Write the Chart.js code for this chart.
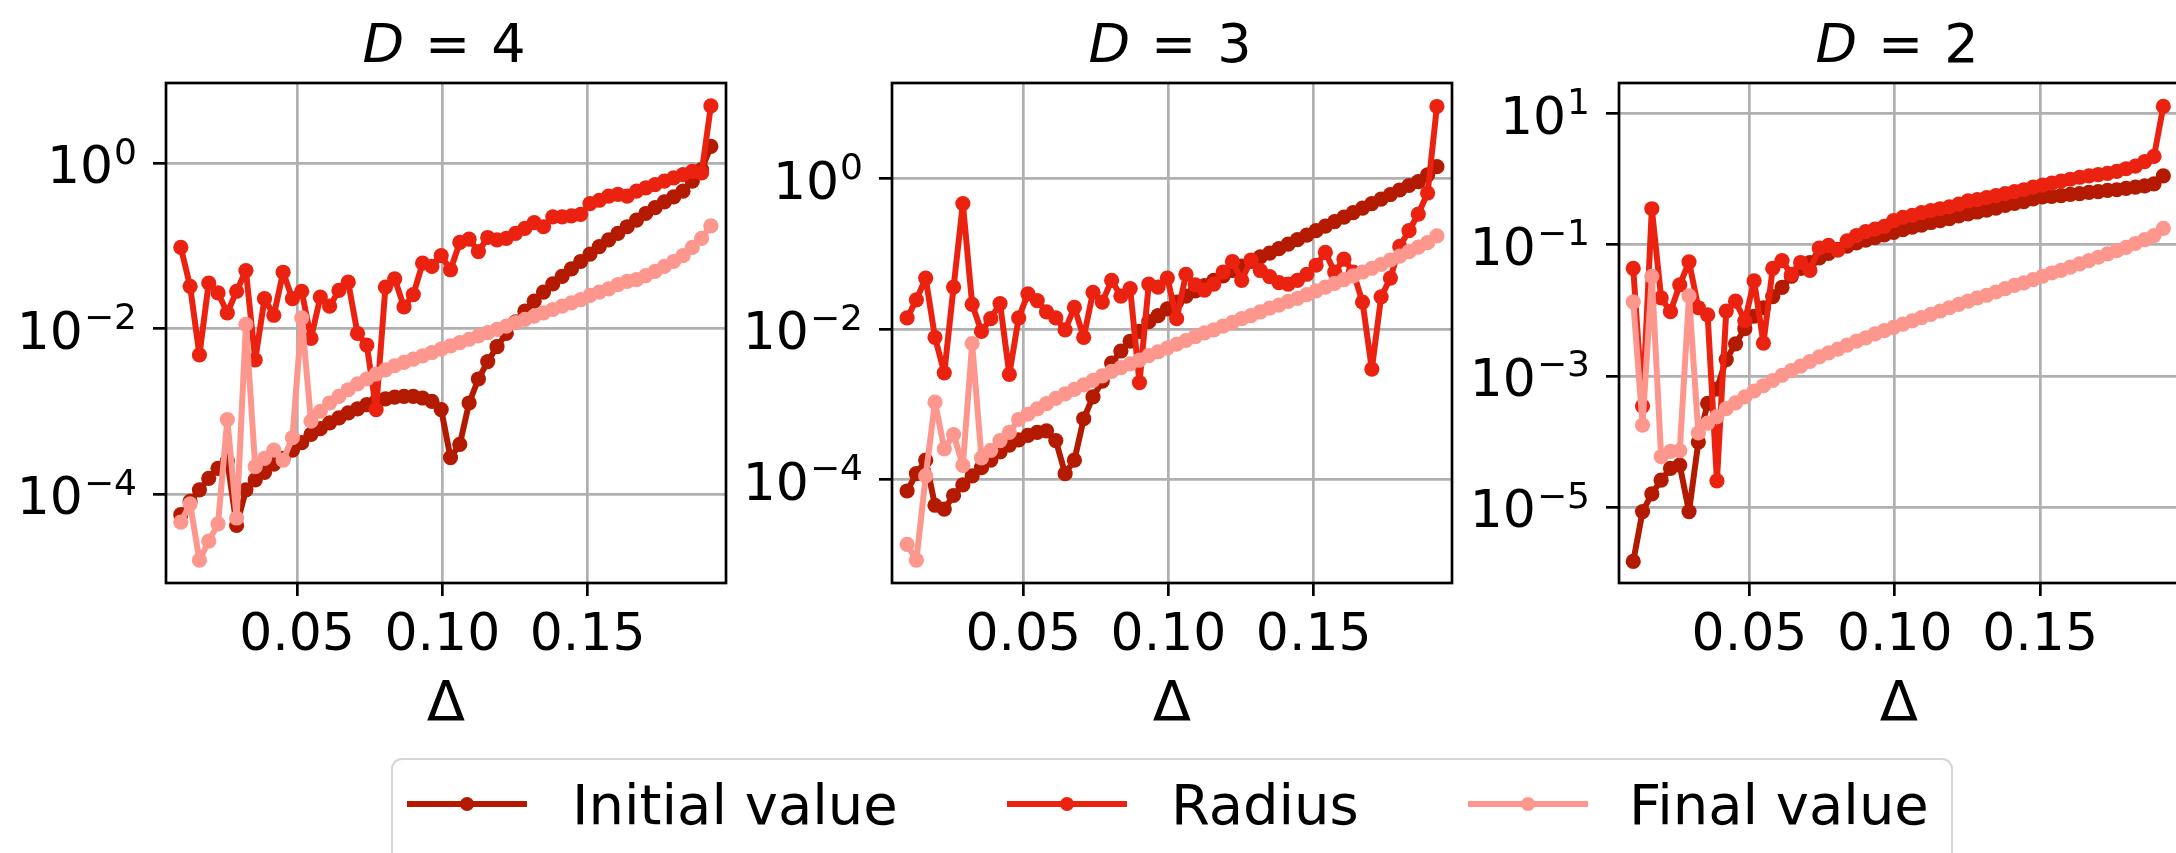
<!DOCTYPE html>
<html>
<head>
<meta charset="utf-8">
<script src="https://cdn.jsdelivr.net/npm/chart.js@4.4.1/dist/chart.umd.min.js"></script>
<style>
  html, body { margin: 0; padding: 0; background: #fff; overflow: hidden; width: 2176px; height: 853px; }
  canvas.panel { position: absolute; top: 0; }
  #legendBox { position: absolute; left: 391px; top: 758px; width: 1562px; height: 130px; box-sizing: border-box;
               border: 2.7px solid #d6d6d6; border-radius: 11px; background: #fff; }
  .lgLine { position: absolute; height: 6px; }
  .lgDot { position: absolute; width: 14px; height: 14px; border-radius: 50%; }
  .lgText { position: absolute; font-family: "DejaVu Sans"; font-size: 56px; line-height: 56px; color: #000; white-space: nowrap; }
</style>
</head>
<body>
<canvas id="c0" class="panel"></canvas>
<canvas id="c1" class="panel"></canvas>
<canvas id="c2" class="panel"></canvas>
<div id="legendBox"></div>
<script>
// ---------------- DATA ----------------
// Delta values (x)
const deltas = [0.0100,0.0132,0.0164,0.0196,0.0228,0.0260,0.0292,0.0324,0.0356,0.0388,
                0.0420,0.0452,0.0484,0.0516,0.0548,0.0580,0.0612,0.0644,0.0676,0.0708,
                0.0740,0.0772,0.0804,0.0836,0.0868,0.0900,0.0932,0.0964,0.0996,0.1028,
                0.1060,0.1092,0.1124,0.1156,0.1188,0.1220,0.1252,0.1284,0.1316,0.1348,
                0.1380,0.1412,0.1444,0.1476,0.1508,0.1540,0.1572,0.1604,0.1636,0.1668,
                0.1700,0.1732,0.1764,0.1796,0.1828,0.1860,0.1892,0.1924];

// Values, stored as log10 exponents
const d4InitialLog10 = [-4.25,-4.09,-3.95,-3.81,-3.69,-3.60,-4.38,-3.95,-3.83,-3.74,
                        -3.64,-3.57,-3.47,-3.38,-3.28,-3.21,-3.14,-3.08,-3.02,-2.97,
                        -2.92,-2.88,-2.85,-2.83,-2.82,-2.82,-2.84,-2.88,-2.98,-3.56,
                        -3.40,-2.90,-2.61,-2.40,-2.22,-2.06,-1.92,-1.79,-1.67,-1.56,
                        -1.46,-1.37,-1.28,-1.19,-1.10,-1.01,-0.93,-0.85,-0.77,-0.69,
                        -0.61,-0.54,-0.47,-0.41,-0.34,-0.22,-0.08,0.20];
const d4RadiusLog10 = [-1.02,-1.49,-2.32,-1.45,-1.57,-1.81,-1.55,-1.30,-2.38,-1.64,
                       -1.84,-1.32,-1.64,-1.55,-2.12,-1.62,-1.73,-1.54,-1.44,-2.06,
                       -2.20,-2.98,-1.50,-1.40,-1.74,-1.59,-1.21,-1.25,-1.12,-1.29,
                       -0.96,-0.92,-1.07,-0.90,-0.93,-0.91,-0.85,-0.79,-0.72,-0.77,
                       -0.65,-0.65,-0.64,-0.62,-0.49,-0.45,-0.40,-0.38,-0.40,-0.34,
                       -0.30,-0.26,-0.22,-0.18,-0.14,-0.10,-0.12,0.69];
const d4FinalLog10 = [-4.34,-4.12,-4.80,-4.57,-4.36,-3.10,-4.29,-1.95,-3.67,-3.57,
                      -3.47,-3.59,-3.32,-1.87,-3.12,-3.00,-2.90,-2.82,-2.74,-2.67,
                      -2.61,-2.55,-2.50,-2.45,-2.41,-2.37,-2.33,-2.29,-2.25,-2.21,
                      -2.17,-2.13,-2.09,-2.05,-2.01,-1.97,-1.93,-1.89,-1.85,-1.81,
                      -1.77,-1.73,-1.69,-1.65,-1.60,-1.56,-1.52,-1.47,-1.43,-1.41,
                      -1.36,-1.31,-1.25,-1.19,-1.12,-1.02,-0.91,-0.76];

const d3InitialLog10 = [-4.15,-3.92,-3.74,-4.34,-4.39,-4.21,-4.07,-3.95,-3.84,-3.74,
                        -3.63,-3.54,-3.47,-3.41,-3.37,-3.35,-3.48,-3.92,-3.74,-3.19,
                        -2.90,-2.69,-2.45,-2.29,-2.16,-2.03,-1.90,-1.82,-1.73,-1.64,
                        -1.56,-1.49,-1.42,-1.35,-1.29,-1.22,-1.16,-1.10,-1.04,-0.99,
                        -0.93,-0.87,-0.81,-0.75,-0.69,-0.63,-0.57,-0.51,-0.45,-0.39,
                        -0.33,-0.27,-0.21,-0.15,-0.09,-0.04,0.05,0.16];
const d3RadiusLog10 = [-1.85,-1.61,-1.32,-2.11,-2.58,-1.44,-0.33,-1.67,-2.03,-1.86,
                       -1.66,-2.60,-1.85,-1.53,-1.62,-1.77,-1.85,-2.01,-1.71,-2.11,
                       -1.51,-1.64,-1.35,-1.56,-1.46,-2.71,-1.40,-1.44,-1.32,-1.86,
                       -1.27,-1.41,-1.48,-1.40,-1.24,-1.10,-1.35,-1.08,-1.22,-1.30,
                       -1.38,-1.40,-1.35,-1.27,-1.15,-0.98,-1.24,-1.07,-1.24,-1.64,
                       -2.53,-1.57,-1.32,-0.90,-0.69,-0.47,-0.19,0.96];
const d3FinalLog10 = [-4.86,-5.07,-3.95,-2.97,-3.59,-3.40,-3.81,-2.19,-3.71,-3.61,
                      -3.48,-3.37,-3.20,-3.13,-3.06,-2.99,-2.92,-2.86,-2.80,-2.74,
                      -2.68,-2.62,-2.56,-2.51,-2.46,-2.41,-2.35,-2.30,-2.25,-2.20,
                      -2.15,-2.10,-2.05,-2.01,-1.96,-1.91,-1.86,-1.82,-1.77,-1.72,
                      -1.68,-1.63,-1.59,-1.54,-1.49,-1.44,-1.39,-1.34,-1.29,-1.24,
                      -1.19,-1.14,-1.08,-1.03,-0.97,-0.91,-0.85,-0.76];

const d2InitialLog10 = [-5.83,-5.07,-4.80,-4.59,-4.41,-4.36,-5.07,-4.01,-3.42,-3.20,
                        -2.75,-2.51,-2.28,-2.09,-1.96,-1.79,-1.65,-1.48,-1.36,-1.27,
                        -1.20,-1.13,-1.07,-1.02,-0.97,-0.93,-0.89,-0.85,-0.81,-0.77,
                        -0.73,-0.70,-0.66,-0.63,-0.60,-0.56,-0.53,-0.50,-0.47,-0.44,
                        -0.40,-0.37,-0.34,-0.30,-0.27,-0.26,-0.25,-0.23,-0.22,-0.20,
                        -0.19,-0.17,-0.16,-0.14,-0.12,-0.10,-0.07,0.05];
const d2RadiusLog10 = [-1.36,-3.46,-0.45,-1.81,-2.02,-1.61,-1.26,-1.96,-2.07,-4.60,
                       -2.01,-1.86,-2.16,-1.55,-2.50,-1.36,-1.24,-1.45,-1.27,-1.39,
                       -1.05,-1.01,-1.08,-0.94,-0.86,-0.80,-0.76,-0.72,-0.63,-0.58,
                       -0.55,-0.51,-0.48,-0.45,-0.42,-0.38,-0.33,-0.31,-0.28,-0.25,
                       -0.22,-0.19,-0.16,-0.12,-0.09,-0.06,-0.03,0.00,0.03,0.05,
                       0.07,0.09,0.12,0.16,0.20,0.27,0.35,1.11];
const d2FinalLog10 = [-1.87,-3.75,-1.48,-4.23,-4.15,-4.14,-1.78,-3.87,-3.72,-3.62,
                      -3.50,-3.41,-3.32,-3.23,-3.15,-3.07,-2.99,-2.92,-2.85,-2.78,
                      -2.71,-2.65,-2.59,-2.53,-2.47,-2.42,-2.36,-2.31,-2.26,-2.21,
                      -2.16,-2.11,-2.06,-2.01,-1.96,-1.91,-1.86,-1.81,-1.77,-1.72,
                      -1.67,-1.62,-1.58,-1.53,-1.48,-1.43,-1.39,-1.34,-1.29,-1.24,
                      -1.19,-1.14,-1.09,-1.04,-0.98,-0.92,-0.86,-0.75];

const seriesNames = ['Initial value', 'Radius', 'Final value'];
const seriesColors = ['#b31a00', '#ec2211', '#fd978e'];
const panelD = ['4', '3', '2'];
const xTickValues = [0.05, 0.10, 0.15];
const xTickLabels = ['0.05', '0.10', '0.15'];
const yTickExponents = [[0, -2, -4], [0, -2, -4], [1, -1, -3, -5]];
const xAxisLabel = '\u0394';

// ---------------- LAYOUT ----------------
const BOX_W = 560, BOX_TOP = 83, BOX_BOTTOM = 583, CANVAS_H = 853;
const LEFT_SPACE = 200, RIGHT_SPACE = 20;
const panels = [
  { left: 166, xMin: 0.0049, xMax: 0.1976, yMinExp: -5.0755, yMaxExp: 0.967,
    series: [d4InitialLog10, d4RadiusLog10, d4FinalLog10] },
  { left: 892, xMin: 0.0048, xMax: 0.1976, yMinExp: -5.373, yMaxExp: 1.272,
    series: [d3InitialLog10, d3RadiusLog10, d3FinalLog10] },
  { left: 1619, xMin: 0.0051, xMax: 0.1978, yMinExp: -6.159, yMaxExp: 1.468,
    series: [d2InitialLog10, d2RadiusLog10, d2FinalLog10] }
];

const FONT = '"DejaVu Sans"';

const decor = {
  id: 'decor',
  afterDatasetsDraw(chart, args, opts) {
    const ctx = chart.ctx, a = chart.chartArea;
    ctx.save();
    ctx.strokeStyle = '#000';
    ctx.lineWidth = 2.7;
    ctx.strokeRect(a.left, a.top, a.right - a.left, a.bottom - a.top);
    ctx.fillStyle = '#000';
    ctx.textBaseline = 'alphabetic';
    const ys = chart.scales.y;
    opts.yExps.forEach(e => {
      const py = ys.getPixelForValue(Math.pow(10, e));
      const sup = e < 0 ? '\u2212' + Math.abs(e) : String(e);
      const xr = a.left - 29;
      ctx.textAlign = 'left';
      ctx.font = '36px ' + FONT;
      const sw = ctx.measureText(sup).width;
      ctx.fillText(sup, xr - sw, py + 0.5);
      ctx.font = '52px ' + FONT;
      const bw = ctx.measureText('10').width;
      ctx.fillText('10', xr - sw - bw - 1, py + 20);
    });
    const xs = chart.scales.x;
    ctx.font = '52px ' + FONT;
    ctx.textAlign = 'center';
    xTickValues.forEach((v, i) => {
      ctx.fillText(xTickLabels[i], xs.getPixelForValue(v), 650);
    });
    const cx = (a.left + a.right) / 2;
    ctx.font = '56px ' + FONT;
    ctx.fillText(xAxisLabel, cx, 720);
    // title  "D = n"
    ctx.textAlign = 'left';
    ctx.font = 'oblique 54px ' + FONT;
    const wD = ctx.measureText('D').width;
    ctx.font = '54px ' + FONT;
    const wEq = ctx.measureText('=').width;
    const wN = ctx.measureText(opts.d).width;
    const gap = 21;
    const total = wD + gap + wEq + gap + wN;
    let x0 = cx - total / 2 - 2;
    ctx.font = 'oblique 54px ' + FONT;
    ctx.fillText('D', x0, 62);
    ctx.font = '54px ' + FONT;
    ctx.fillText('=', x0 + wD + gap, 62);
    ctx.fillText(opts.d, x0 + wD + gap + wEq + gap, 62);
    ctx.restore();
  }
};

panels.forEach((p, k) => {
  const cv = document.getElementById('c' + k);
  const W = LEFT_SPACE + BOX_W + RIGHT_SPACE;
  cv.width = W; cv.height = CANVAS_H;
  cv.style.width = W + 'px'; cv.style.height = CANVAS_H + 'px';
  cv.style.left = (p.left - LEFT_SPACE) + 'px';

  const datasets = p.series.map((vals, s) => ({
    label: seriesNames[s],
    data: deltas.map((x, i) => ({ x: x, y: Math.pow(10, vals[i]) })),
    borderColor: seriesColors[s],
    backgroundColor: seriesColors[s],
    pointBackgroundColor: seriesColors[s],
    pointBorderWidth: 0,
    pointRadius: 7.6,
    pointHoverRadius: 7.6,
    borderWidth: 6,
    borderJoinStyle: 'round',
    borderCapStyle: 'round',
    tension: 0,
    order: 3 - s
  }));

  new Chart(cv, {
    type: 'line',
    data: { datasets },
    options: {
      responsive: false,
      animation: false,
      devicePixelRatio: 1,
      events: [],
      layout: { padding: { top: BOX_TOP, right: RIGHT_SPACE, left: 0, bottom: 0 } },
      plugins: {
        legend: { display: false },
        tooltip: { enabled: false },
        title: { display: false },
        decor: { yExps: yTickExponents[k], d: panelD[k] }
      },
      scales: {
        x: {
          type: 'linear', position: 'bottom', min: p.xMin, max: p.xMax,
          afterBuildTicks: s => { s.ticks = xTickValues.map(v => ({ value: v })); },
          afterFit: s => { s.height = CANVAS_H - BOX_BOTTOM; },
          ticks: { display: false },
          grid: { color: '#b0b0b0', lineWidth: 2.7, drawTicks: true, tickLength: 13, tickColor: '#000', tickWidth: 2.7 },
          border: { display: false }
        },
        y: {
          type: 'logarithmic', position: 'left',
          min: Math.pow(10, p.yMinExp), max: Math.pow(10, p.yMaxExp),
          afterBuildTicks: s => { s.ticks = yTickExponents[k].map(e => ({ value: Math.pow(10, e) })); },
          afterFit: s => { s.width = LEFT_SPACE; },
          ticks: { display: false },
          grid: { color: '#b0b0b0', lineWidth: 2.7, drawTicks: true, tickLength: 13, tickColor: '#000', tickWidth: 2.7 },
          border: { display: false }
        }
      }
    },
    plugins: [decor]
  });
});

// ---------------- LEGEND ----------------
const legendLayout = [
  { lineX: 407, textX: 572 },
  { lineX: 1007, textX: 1171 },
  { lineX: 1468, textX: 1629 }
];
const LEG_Y = 804, LEG_LINE_W = 120, LEG_BASELINE = 824;
seriesNames.forEach((name, s) => {
  const L = legendLayout[s];
  const line = document.createElement('div');
  line.className = 'lgLine';
  line.style.left = L.lineX + 'px';
  line.style.top = (LEG_Y - 3) + 'px';
  line.style.width = LEG_LINE_W + 'px';
  line.style.background = seriesColors[s];
  document.body.appendChild(line);
  const dot = document.createElement('div');
  dot.className = 'lgDot';
  dot.style.left = (L.lineX + LEG_LINE_W / 2 - 7) + 'px';
  dot.style.top = (LEG_Y - 7) + 'px';
  dot.style.background = seriesColors[s];
  document.body.appendChild(dot);
  const t = document.createElement('div');
  t.className = 'lgText';
  t.textContent = name;
  t.style.left = L.textX + 'px';
  t.style.top = (LEG_BASELINE - 47.4) + 'px';
  document.body.appendChild(t);
});
</script>
</body>
</html>
